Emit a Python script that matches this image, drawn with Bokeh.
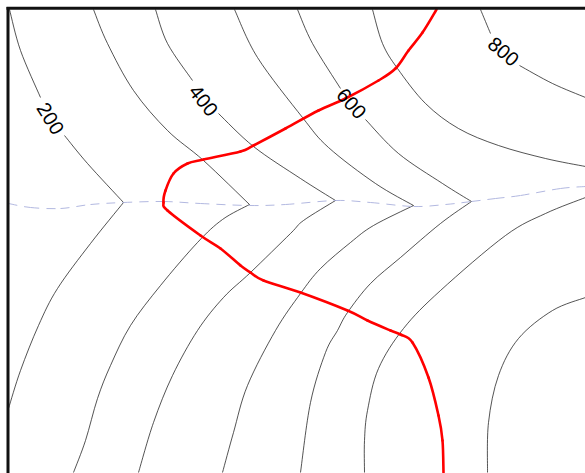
from bokeh.plotting import figure
from bokeh.core.properties import value
from bokeh.embed import file_html
from bokeh.resources import INLINE
import math

# All values are read from the picture; the chart has no axes, so they are in picture units.
c200_top = ([9,20,40], [9,50,97])
c200_mid = ([64,87,123], [135,163,202])
c200_low = ([123,90,57,38,20,8], [202,243,288,325,370,408])

c300_top = ([93,107,133,167,203,249], [9,43,90,130,160,204])
c300_low = ([249,222,197,160,130,110,97,85,73], [204,219,242,285,325,365,398,440,472])

c400_top = ([155,167,192], [9,43,80])
c400_mid = ([218,253,300,335], [113,146,178,200])
c400_low = ([335,303,290,250,223,197,172,153,138], [200,220,233,272,297,330,375,422,472])

c500_top = ([234,257,302,328,375,413], [9,57,117,147,183,205])
c500_low = ([413,373,350,320,300,275,247,233,222], [205,225,242,268,293,330,385,432,472])

c600_top = ([297,312,340], [9,43,88])
c600_mid = ([365,398,442,471], [119,153,183,201])
c600_low = ([471,440,400,370,347,337,325,310,300], [201,223,257,283,312,330,352,402,472])

c700_top = ([372,382,397,425,458,498,545,585], [9,43,68,103,128,145,158,166])
c700_low = ([585,545,505,440,403,378,367,364,364], [197,213,235,290,328,368,410,440,472])

c800_top = ([480,490], [9,33])
c800_mid = ([519,552,585], [65,83,97])
c800_low = ([585,552,518,498,488,487], [297,310,338,375,422,472])

dashed_x = [8,30,60,90,123,163,200,249,285,335,370,413,445,471,495,520,560,585]
dashed_y = [203,207,208,204,202,201,203,205,204,200,202,206,204,201,198,195,188,186]

red_x = [436,422,408,395,378,345,318,285,253,240,203,187,173,165,163,167,200,220,240,250,263,300,347,367,390,400,412,428,438,442,443]
red_y = [9,32,50,68,80,98,110,128,145,151,159,163,173,190,202,210,235,248,265,272,280,292,310,320,330,334,342,377,415,440,472]

frame_x0 = [7.5, 6]
frame_y0 = [6.5, 7.7]
frame_x1 = [7.5, 585]
frame_y1 = [473, 7.7]

label_texts = ["200", "400", "600", "800"]
label_x = [50, 203, 351, 503]
label_y = [118, 100, 103, 51]
label_deg = [-58, -52, -48, -40]

contours = [c200_top, c200_mid, c200_low, c300_top, c300_low, c400_top, c400_mid, c400_low,
            c500_top, c500_low, c600_top, c600_mid, c600_low, c700_top, c700_low,
            c800_top, c800_mid, c800_low]


def smooth(xs, ys):
    """Control points of a smooth curve through the read points."""
    n = len(xs)
    out = {k: [] for k in ("x0", "y0", "x1", "y1", "cx0", "cy0", "cx1", "cy1")}
    for i in range(n - 1):
        a, b = max(i - 1, 0), min(i + 2, n - 1)
        out["x0"].append(xs[i]); out["y0"].append(ys[i])
        out["x1"].append(xs[i + 1]); out["y1"].append(ys[i + 1])
        out["cx0"].append(xs[i] + (xs[i + 1] - xs[a]) / 6)
        out["cy0"].append(ys[i] + (ys[i + 1] - ys[a]) / 6)
        out["cx1"].append(xs[i + 1] - (xs[b] - xs[i]) / 6)
        out["cy1"].append(ys[i + 1] - (ys[b] - ys[i]) / 6)
    return out


p = figure(width=585, height=473, x_range=(0, 585), y_range=(473, 0),
           output_backend="svg", toolbar_location=None, min_border=0,
           outline_line_color=None)
p.axis.visible = False
p.grid.visible = False

for cx, cy in contours:
    p.bezier(line_color="#111111", line_width=0.8, line_alpha=0.9, **smooth(cx, cy))

p.bezier(line_color="#a9b0dc", line_width=0.9, line_dash="9 7", **smooth(dashed_x, dashed_y))
p.bezier(line_color="#ff0000", line_width=2.6, line_cap="round", **smooth(red_x, red_y))

p.text(label_x, label_y, text=label_texts, angle=[math.radians(d) for d in label_deg],
       text_font=value("Liberation Sans"), text_font_size="20px", text_color="#000000",
       text_align="center", text_baseline="middle")

p.segment(x0=frame_x0, y0=frame_y0, x1=frame_x1, y1=frame_y1, line_color="#111111", line_width=3)

open("out.html", "w").write(file_html(p, INLINE))
